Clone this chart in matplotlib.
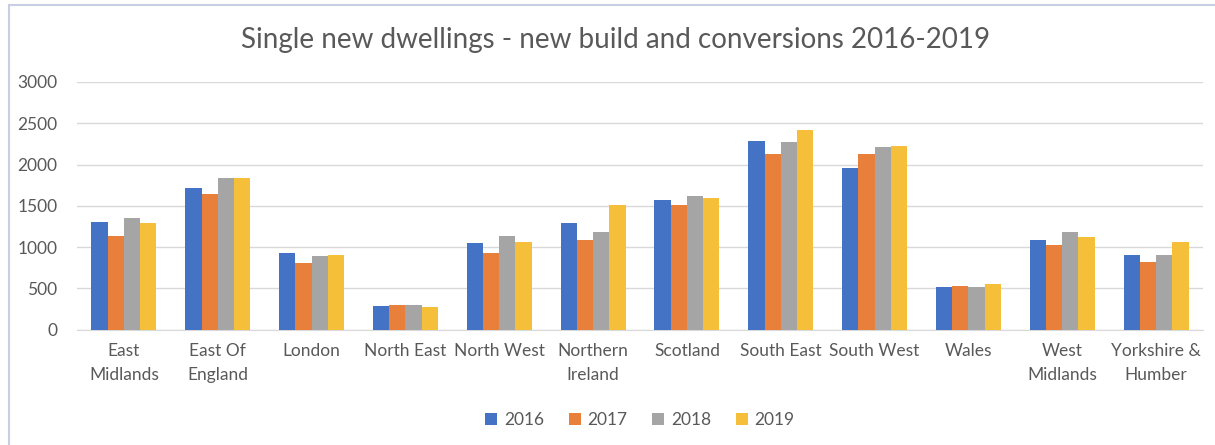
import numpy as np
import matplotlib
matplotlib.use("Agg")
import matplotlib.pyplot as plt
from matplotlib.patches import Rectangle

regions = ["East\nMidlands", "East Of\nEngland", "London", "North East", "North West",
           "Northern\nIreland", "Scotland", "South East", "South West", "Wales",
           "West\nMidlands", "Yorkshire &\nHumber"]
years = ["2016", "2017", "2018", "2019"]

dwellings_2016 = [1300, 1713, 931, 287, 1045, 1292, 1571, 2280, 1956, 518, 1085, 907]
dwellings_2017 = [1138, 1648, 802, 300, 931, 1085, 1506, 2126, 2126, 530, 1020, 814]
dwellings_2018 = [1356, 1842, 891, 300, 1138, 1186, 1624, 2267, 2211, 518, 1186, 907]
dwellings_2019 = [1292, 1834, 907, 275, 1061, 1506, 1599, 2421, 2227, 555, 1126, 1061]

colors = ["#4472c4", "#e8803c", "#a5a5a5", "#f5bf3a"]
text_grey = "#595959"

plt.rcParams["font.family"] = ["Lato", "DejaVu Sans"]

fig = plt.figure(figsize=(12.15, 4.45), dpi=100)
ax = fig.add_axes([77 / 1215, 1 - 329.5 / 445, 1126 / 1215, 247.5 / 445])

x = np.arange(len(regions))
width = 0.173
series = [dwellings_2016, dwellings_2017, dwellings_2018, dwellings_2019]
for i, (yr, vals) in enumerate(zip(years, series)):
    ax.bar(x + (i - 1.5) * width, vals, width, color=colors[i], label=yr, zorder=3)

ax.set_xlim(-0.5, len(regions) - 0.5)
ax.set_ylim(0, 3000)
ax.set_yticks(range(0, 3001, 500))
ax.yaxis.grid(True, color="#d9d9d9", linewidth=1.0, zorder=0)
for s in ["top", "right", "left"]:
    ax.spines[s].set_visible(False)
ax.spines["bottom"].set_color("#d9d9d9")
ax.tick_params(axis="both", length=0, colors=text_grey, labelsize=12.5)
ax.tick_params(axis="y", pad=14)
ax.tick_params(axis="x", pad=10)
ax.set_xticks(x)
ax.set_xticklabels(regions, linespacing=1.55)

fig.text(0.507, 0.91, "Single new dwellings - new build and conversions 2016-2019",
         ha="center", va="center", fontsize=20, color=text_grey)

ax.legend(loc="center", bbox_to_anchor=(0.5, -0.365), ncol=4, frameon=False,
          fontsize=12.5, labelcolor=text_grey, handlelength=0.7, handleheight=0.7,
          handletextpad=0.4, columnspacing=1.4)

# chart border
fig.patches.append(Rectangle((9 / 1215, -0.1), 1.2, 1 - 5 / 445 + 0.1, transform=fig.transFigure,
                             fill=False, edgecolor="#c9cfe3", linewidth=1.5))

fig.savefig("out.png", dpi=100)
